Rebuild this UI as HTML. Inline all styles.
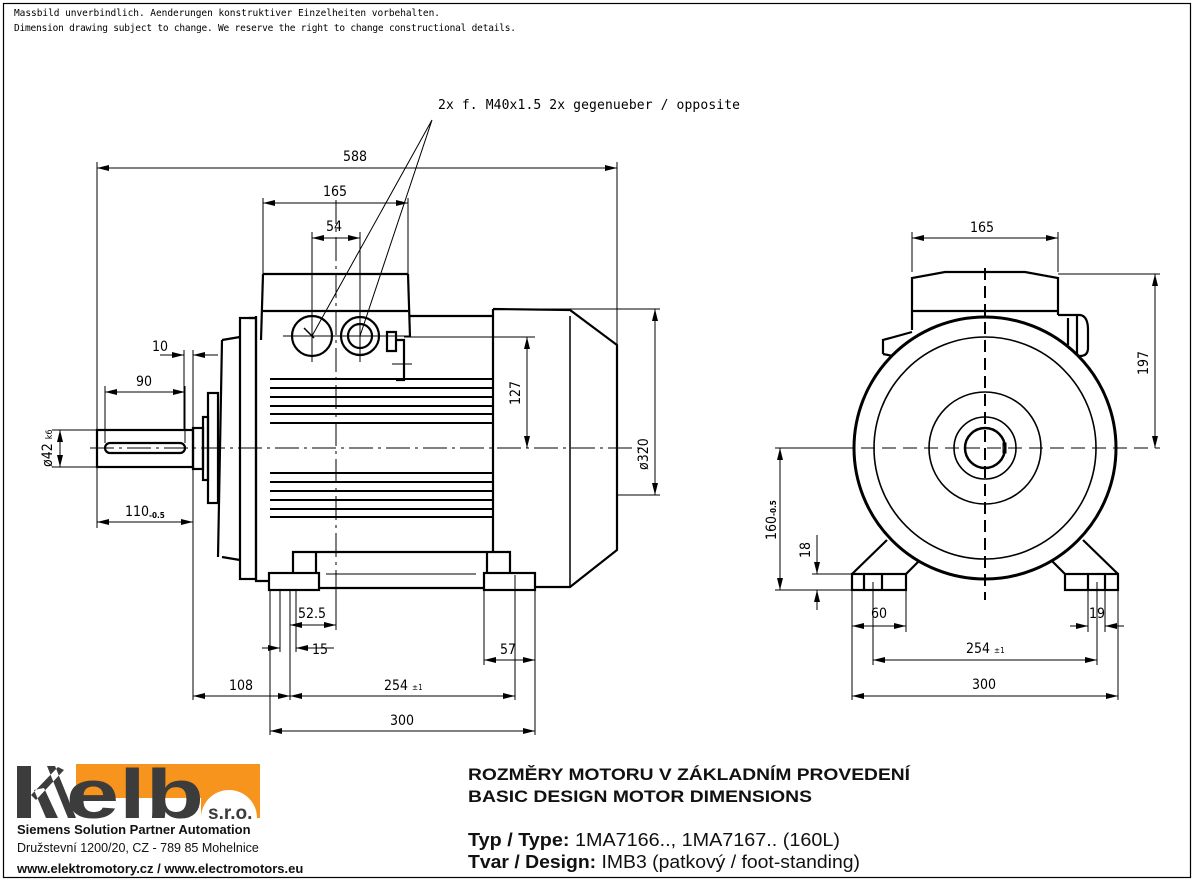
<!DOCTYPE html>
<html><head><meta charset="utf-8"><style>
html,body{margin:0;padding:0;background:#fff;}
svg{display:block;}
.d{font-family:"DejaVu Sans Condensed","Liberation Sans",sans-serif;font-size:14px;fill:#000;}
</style></head><body>
<svg width="1196" height="882" viewBox="0 0 1196 882" xmlns="http://www.w3.org/2000/svg">
<defs>
<marker id="a" viewBox="0 0 12 6" refX="12" refY="3" markerWidth="12" markerHeight="6" orient="auto-start-reverse" markerUnits="userSpaceOnUse"><path d="M0,0L12,3L0,6z" fill="#000"/></marker>
</defs>
<rect x="3.5" y="3.5" width="1187" height="874" fill="none" stroke="#000" stroke-width="1.2"/>
<text x="14" y="16" style="font-family:'DejaVu Sans Mono',monospace;font-size:9.5px" textLength="426">Massbild unverbindlich. Aenderungen konstruktiver Einzelheiten vorbehalten.</text>
<text x="14" y="31" style="font-family:'DejaVu Sans Mono',monospace;font-size:9.5px" textLength="502">Dimension drawing subject to change. We reserve the right to change constructional details.</text>

<!-- SIDE VIEW -->
<g fill="none" stroke="#000" stroke-width="2.2">
<rect x="97" y="430" width="96" height="37"/>
<rect x="105" y="443" width="80" height="10" rx="5"/>
<rect x="193" y="428" width="10" height="41"/>
<rect x="203" y="417" width="5" height="63"/>
<rect x="208" y="393" width="10" height="110"/>
<path d="M222,340 L240,337 M222,340 L218,557 M222,557 L240,560"/>
<rect x="240" y="318" width="16" height="261"/>
<path d="M256,316 V581 H269 M256,318 H249"/>
<path d="M263,274 H408 M263,311 H408 M263,274 L261,340 M408,274 L410,337"/>
<path d="M410,316 H493 M493,309 V552 M493,309 L570,310 L617,345 V550 L570,587 H535"/>
<path d="M570,316 V587" stroke-width="1.5"/>
<path d="M270,379H492M270,388H492M270,397H492M270,406H492M270,414H492M270,423H492M270,473H492M270,482H492M270,491H492M270,500H492M270,509H492M270,517H492" stroke-width="2"/>
<rect x="269" y="573" width="50" height="17"/>
<rect x="484" y="573" width="51" height="17"/>
<path d="M293,573 V552 H510 V573 M316,552 V573 M487,552 V573 M319,588 H484"/>
<path d="M326,574 H476" stroke-width="1"/>
<circle cx="312" cy="336" r="20"/>
<circle cx="360" cy="336" r="19"/>
<circle cx="360" cy="336" r="12"/>
<path d="M387,332 H396 V351 H387 Z M396,340 H404 V380 H396"/>
<path d="M304,328 L314,338" stroke-width="1.5"/>
</g>
<g fill="none" stroke="#000" stroke-width="1">
<path d="M90,448 H640" stroke-dasharray="24,5,3,5"/>
<path d="M336,200 V600" stroke-dasharray="24,5,3,5"/>
<path d="M283,336 H410 M312,310 V362 M360,310 V362 M392,364 H412"/>
<path d="M432,120 L312,336 M432,120 L360,336"/>
<path d="M97,162 V430 M617,162 V345 M263,198 V274 M408,198 V274 M312,232 V316 M360,232 V316"/>
<path d="M184,350 V430 M193,350 V428 M185,386 V443 M105,386 V443"/>
<path d="M52,430 H97 M52,467 H97 M97,467 V528 M193,469 V700"/>
<path d="M404,337 H535 M493,309 H660 M617,495 H660 M535,448 H540"/>
<path d="M270,590 V735 M280,590 V652 M290,590 V700 M296,590 V652 M336,590 V630 M484,590 V665 M515,575 V700 M535,590 V735"/>
<path d="M97,168 H617" marker-start="url(#a)" marker-end="url(#a)"/>
<path d="M263,203 H408" marker-start="url(#a)" marker-end="url(#a)"/>
<path d="M312,238 H360" marker-start="url(#a)" marker-end="url(#a)"/>
<path d="M160,355 H184" marker-end="url(#a)"/><path d="M218,355 H193" marker-end="url(#a)"/>
<path d="M105,392 H185" marker-start="url(#a)" marker-end="url(#a)"/>
<path d="M60,430 V467" marker-start="url(#a)" marker-end="url(#a)"/>
<path d="M97,522 H193" marker-start="url(#a)" marker-end="url(#a)"/>
<path d="M527,337 V448" marker-start="url(#a)" marker-end="url(#a)"/>
<path d="M655,309 V495" marker-start="url(#a)" marker-end="url(#a)"/>
<path d="M290,625 H336" marker-start="url(#a)" marker-end="url(#a)"/>
<path d="M262,648 H280" marker-end="url(#a)"/><path d="M334,648 H296" marker-end="url(#a)"/>
<path d="M484,660 H535" marker-start="url(#a)" marker-end="url(#a)"/>
<path d="M193,696 H290" marker-start="url(#a)" marker-end="url(#a)"/>
<path d="M290,696 H515" marker-start="url(#a)" marker-end="url(#a)"/>
<path d="M270,731 H535" marker-start="url(#a)" marker-end="url(#a)"/>
</g>
<text x="438" y="109" style="font-family:'DejaVu Sans Mono',monospace;font-size:13px" textLength="302">2x f. M40x1.5  2x gegenueber / opposite</text>
<g class="d">
<text x="343" y="161">588</text>
<text x="323" y="196">165</text>
<text x="326" y="231">54</text>
<text x="152" y="351">10</text>
<text x="136" y="386">90</text>
<text x="125" y="516">110<tspan font-size="8" dy="2" font-weight="bold">-0.5</tspan></text>
<text transform="translate(52,467) rotate(-90)">ø42 <tspan font-size="9">k6</tspan></text>
<text transform="translate(520,405) rotate(-90)">127</text>
<text transform="translate(648,470) rotate(-90)">ø320</text>
<text x="298" y="618">52.5</text>
<text x="312" y="654">15</text>
<text x="500" y="654">57</text>
<text x="229" y="690">108</text>
<text x="384" y="690">254 <tspan font-size="8">±1</tspan></text>
<text x="390" y="725">300</text>
</g>

<!-- FRONT VIEW -->
<g fill="none" stroke="#000" stroke-width="2.2">
<path d="M912,330 V278 L945,272 H1025 L1058,278 V315 M912,311 H1058"/>
<path d="M883,354 V340 L912,332 M883,354 L893,356"/>
<path d="M1058,315 H1080 Q1088,316 1088,330 V348 Q1088,356 1080,356 L1070,356 M1077,315 V356 M1068,318 V345"/>
<path d="M852,574 L887,540 M906,574 L924,556 M1118,574 L1083,540 M1065,574 L1047,556"/>
<rect x="852" y="574" width="54" height="16"/>
<rect x="1065" y="574" width="53" height="16"/>
<path d="M864,574V590M882,574V590M1088,574V590M1105,574V590"/>
<circle cx="985" cy="448" r="131" stroke-width="3" fill="#fff"/>
<circle cx="985" cy="448" r="111" stroke-width="1.6"/>
<circle cx="985" cy="448" r="56" stroke-width="1.6"/>
<circle cx="985" cy="448" r="31" stroke-width="1.6"/>
<circle cx="985" cy="448" r="20" stroke-width="2.5"/>
<rect x="1003" y="443" width="3" height="10" stroke-width="1"/>
</g>
<g fill="none" stroke="#000" stroke-width="1">
<path d="M985,268 V600" stroke-width="2" stroke-dasharray="12,6"/>
<path d="M840,448 H1160" stroke-dasharray="14,7"/>
<path d="M912,232 V272 M1058,232 V272 M1058,274 H1160 M775,448 H855 M775,590 H852 M812,574 H852"/>
<path d="M852,590 V700 M906,590 V632 M873,582 V665 M1097,582 V665 M1088,590 V632 M1105,590 V632 M1118,590 V700"/>
<path d="M912,238 H1058" marker-start="url(#a)" marker-end="url(#a)"/>
<path d="M1155,274 V448" marker-start="url(#a)" marker-end="url(#a)"/>
<path d="M780,448 V590" marker-start="url(#a)" marker-end="url(#a)"/>
<path d="M817,535 V574" marker-end="url(#a)"/><path d="M817,610 V590" marker-end="url(#a)"/>
<path d="M852,626 H906" marker-start="url(#a)" marker-end="url(#a)"/>
<path d="M1070,626 H1088" marker-end="url(#a)"/><path d="M1124,626 H1105" marker-end="url(#a)"/>
<path d="M873,660 H1097" marker-start="url(#a)" marker-end="url(#a)"/>
<path d="M852,696 H1118" marker-start="url(#a)" marker-end="url(#a)"/>
</g>
<g class="d">
<text x="970" y="232">165</text>
<text transform="translate(1148,375) rotate(-90)">197</text>
<text transform="translate(776,540) rotate(-90)">160<tspan font-size="8" font-weight="bold">-0.5</tspan></text>
<text transform="translate(810,558) rotate(-90)">18</text>
<text x="871" y="618">60</text>
<text x="1089" y="618">19</text>
<text x="966" y="653">254 <tspan font-size="8">±1</tspan></text>
<text x="972" y="689">300</text>
</g>

<!-- TITLE -->
<g style="font-family:'Liberation Sans',sans-serif" fill="#111">
<text x="468" y="780" font-size="17" font-weight="bold" textLength="442" lengthAdjust="spacingAndGlyphs">ROZMĚRY MOTORU V ZÁKLADNÍM PROVEDENÍ</text>
<text x="468" y="802" font-size="17" font-weight="bold" textLength="344" lengthAdjust="spacingAndGlyphs">BASIC DESIGN MOTOR DIMENSIONS</text>
<text x="468" y="846" font-size="18" textLength="372" lengthAdjust="spacingAndGlyphs"><tspan font-weight="bold">Typ / Type:</tspan> 1MA7166.., 1MA7167.. (160L)</text>
<text x="468" y="868" font-size="18" textLength="392" lengthAdjust="spacingAndGlyphs"><tspan font-weight="bold">Tvar / Design:</tspan> IMB3 (patkový / foot-standing)</text>
</g>

<!-- LOGO -->
<g>
<path d="M76,764 H260 V818 H257 A28,28 0 0 0 201,818 V798 H76 Z" fill="#f7941d"/>
<path d="M17,766 H31 V818 H17 Z M31,795 L58,767 L64,770 L36,800 Z M34,790 L46,818 H58 L44,788 Z M47,766 L68,818 H76 L55,766 Z" fill="#3c3c3c"/>
<text x="66" y="818" textLength="138" lengthAdjust="spacingAndGlyphs" style="font-family:'Liberation Sans',sans-serif;font-size:70px;font-weight:bold" fill="#3c3c3c">elb</text>
<text x="208" y="819" style="font-family:'Liberation Sans',sans-serif;font-size:19px;font-weight:bold" fill="#3c3c3c">s.r.o.</text>
<text x="17" y="834" style="font-family:'Liberation Sans',sans-serif;font-size:13px;font-weight:bold" fill="#111">Siemens Solution Partner Automation</text>
<text x="17" y="852" style="font-family:'Liberation Sans',sans-serif;font-size:12.5px" fill="#111">Družstevní 1200/20, CZ - 789 85 Mohelnice</text>
<text x="17" y="873" style="font-family:'Liberation Sans',sans-serif;font-size:13px;font-weight:bold" fill="#111">www.elektromotory.cz / www.electromotors.eu</text>
</g>
</svg>
</body></html>
